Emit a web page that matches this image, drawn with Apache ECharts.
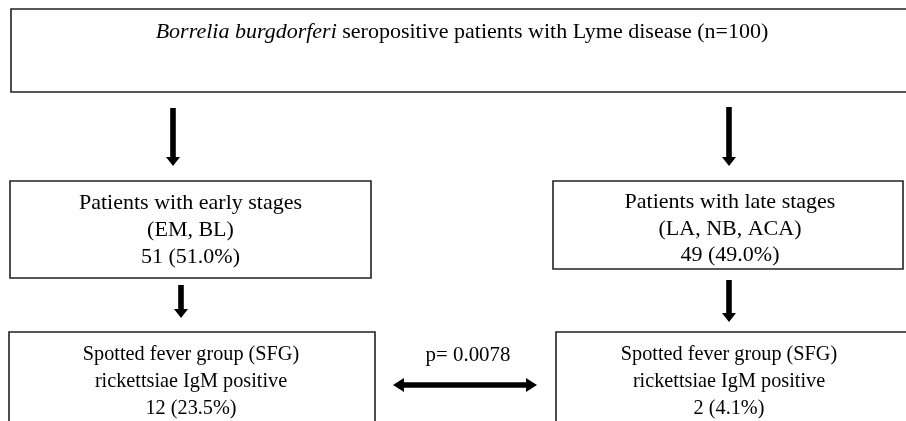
<!DOCTYPE html>
<html>
<head>
<meta charset="utf-8">
<script src="https://cdn.jsdelivr.net/npm/echarts@6/dist/echarts.min.js"></script>
<style>
  html, body { margin: 0; padding: 0; background: #fff; }
  #main { width: 906px; height: 421px; }
</style>
</head>
<body>
<div id="main"></div>
<script>
// flowchart values
const totalN = 100;
const speciesName = 'Borrelia burgdorferi';
const topText = ' seropositive patients with Lyme disease';
const stageNames = ['Patients with early stages', 'Patients with late stages'];
const stageCodes = ['(EM, BL)', '(LA, NB, ACA)'];
const stageCounts = [51, 49];
const stagePercents = ['51.0%', '49.0%'];
const sfgLines = ['Spotted fever group (SFG)', 'rickettsiae IgM positive'];
const sfgCounts = [12, 2];
const sfgPercents = ['23.5%', '4.1%'];
const pValue = '0.0078';

// layout (pixels)
const FONT = '22px "Liberation Serif", "Times New Roman", serif';
const INK = '#000';
const BORDER = '#222';

let chartDom = document.getElementById('main');
let chart = echarts.init(chartDom, null, { renderer: 'canvas' });

const box = (x, y, w, h) => ({
  type: 'rect',
  shape: { x: x, y: y, width: w, height: h },
  style: { fill: '#fff', stroke: BORDER, lineWidth: 1.6 }
});

const label = (x, y, text, rich, sx) => ({
  type: 'text',
  x: x,
  y: y,
  scaleX: sx || 1,
  style: {
    text: text,
    font: FONT,
    fill: INK,
    align: 'center',
    verticalAlign: 'middle',
    rich: rich
  }
});

// vertical arrow pointing down
const downArrow = (x, y1, y2) => {
  let hw = 2.8, headW = 7, headL = 9;
  return {
    type: 'polygon',
    shape: {
      points: [
        [x - hw, y1], [x + hw, y1], [x + hw, y2 - headL], [x + headW, y2 - headL],
        [x, y2], [x - headW, y2 - headL], [x - hw, y2 - headL]
      ]
    },
    style: { fill: INK }
  };
};

// horizontal double arrow
const doubleArrow = (x1, x2, y) => {
  let hw = 2.8, headW = 7, headL = 11;
  return {
    type: 'polygon',
    shape: {
      points: [
        [x1, y], [x1 + headL, y - headW], [x1 + headL, y - hw], [x2 - headL, y - hw],
        [x2 - headL, y - headW], [x2, y], [x2 - headL, y + headW], [x2 - headL, y + hw],
        [x1 + headL, y + hw], [x1 + headL, y + headW]
      ]
    },
    style: { fill: INK }
  };
};

let stageBoxes = [
  { x: 10, y: 181, w: 361, h: 97, cx: 190.5, ty: [203, 230, 257] },
  { x: 553, y: 181, w: 350, h: 88, cx: 730, ty: [202, 229, 255] }
];
let sfgBoxes = [
  { x: 9, y: 332, w: 366, h: 200, cx: 191, ty: [354, 381, 408] },
  { x: 556, y: 332, w: 400, h: 200, cx: 729, ty: [354, 381, 408] }
];

let elements = [];

// top box
elements.push(box(11, 9, 1000, 83));
elements.push(label(462, 32, '{i|' + speciesName + '}' + topText + ' (n=' + totalN + ')', {
  i: { font: 'italic ' + FONT, fill: INK }
}));

// arrows from top box
elements.push(downArrow(173, 108, 166));
elements.push(downArrow(729, 107, 166));

// stage boxes
for (let i = 0; i < stageBoxes.length; i++) {
  let b = stageBoxes[i];
  elements.push(box(b.x, b.y, b.w, b.h));
  elements.push(label(b.cx, b.ty[0], stageNames[i]));
  elements.push(label(b.cx, b.ty[1], stageCodes[i]));
  elements.push(label(b.cx, b.ty[2], stageCounts[i] + ' (' + stagePercents[i] + ')'));
}

// arrows to SFG boxes
elements.push(downArrow(181, 285, 318));
elements.push(downArrow(729, 280, 322));

// SFG boxes (text a bit condensed in the original)
for (let i = 0; i < sfgBoxes.length; i++) {
  let b = sfgBoxes[i];
  elements.push(box(b.x, b.y, b.w, b.h));
  elements.push(label(b.cx, b.ty[0], sfgLines[0], null, 0.92));
  elements.push(label(b.cx, b.ty[1], sfgLines[1], null, 0.92));
  elements.push(label(b.cx, b.ty[2], sfgCounts[i] + ' (' + sfgPercents[i] + ')', null, 0.92));
}

// comparison
elements.push(doubleArrow(393, 537, 385));
elements.push(label(468, 355, 'p= ' + pValue, null, 0.95));

let option = {
  backgroundColor: '#fff',
  animation: false,
  graphic: { elements: elements }
};

chart.setOption(option);
</script>
</body>
</html>
